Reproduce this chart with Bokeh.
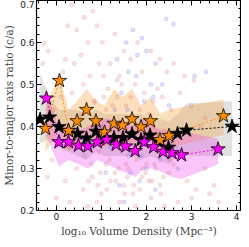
from bokeh.plotting import figure
from bokeh.models import LinearAxis, Range1d, FixedTicker, CustomJSTickFormatter
from bokeh.embed import file_html
from bokeh.resources import INLINE

# --- star series ---
black_x = [-0.36, -0.15, 0.06, 0.27, 0.47, 0.67, 0.88, 1.08, 1.28, 1.48, 1.68, 1.88, 2.08, 2.29, 2.49, 2.69, 2.89, 3.90]
black_y = [0.417, 0.422, 0.399, 0.390, 0.383, 0.372, 0.388, 0.372, 0.373, 0.373, 0.382, 0.368, 0.379, 0.362, 0.350, 0.383, 0.391, 0.400]
black_lo = [0.36, 0.37, 0.35, 0.34, 0.33, 0.32, 0.34, 0.33, 0.33, 0.33, 0.33, 0.32, 0.33, 0.32, 0.31, 0.33, 0.33, 0.33]
black_hi = [0.525, 0.47, 0.44, 0.44, 0.44, 0.43, 0.44, 0.43, 0.43, 0.43, 0.43, 0.43, 0.42, 0.42, 0.41, 0.43, 0.455, 0.46]

orange_x = [-0.24, 0.07, 0.27, 0.46, 0.67, 0.88, 1.07, 1.28, 1.47, 1.68, 1.88, 2.09, 2.30, 2.50, 3.71]
orange_y = [0.395, 0.509, 0.390, 0.413, 0.440, 0.413, 0.386, 0.407, 0.403, 0.418, 0.399, 0.413, 0.368, 0.378, 0.425]
orange_lo = [0.34, 0.39, 0.34, 0.36, 0.38, 0.36, 0.35, 0.36, 0.35, 0.36, 0.35, 0.37, 0.33, 0.35, 0.38]
orange_hi = [0.45, 0.52, 0.44, 0.46, 0.49, 0.46, 0.45, 0.49, 0.47, 0.49, 0.45, 0.47, 0.43, 0.44, 0.465]

magenta_x = [-0.22, 0.06, 0.27, 0.49, 0.70, 0.91, 1.12, 1.33, 1.54, 1.75, 1.95, 2.16, 2.37, 2.57, 2.78, 3.59]
magenta_y = [0.467, 0.363, 0.363, 0.355, 0.353, 0.363, 0.369, 0.357, 0.353, 0.342, 0.363, 0.351, 0.340, 0.337, 0.332, 0.346]
magenta_lo = [0.38, 0.305, 0.32, 0.31, 0.30, 0.32, 0.31, 0.30, 0.29, 0.28, 0.30, 0.30, 0.29, 0.28, 0.275, 0.31]
magenta_hi = [0.48, 0.40, 0.40, 0.39, 0.40, 0.41, 0.42, 0.41, 0.41, 0.40, 0.42, 0.40, 0.39, 0.39, 0.39, 0.37]

# --- background galaxies ---
red_x = [0.34, 0.81, -0.27, -0.18, 0.25, 0.45, 0.62, 0.90, 1.02, 0.70, 0.55, 0.20, 1.30, 1.50, 1.20, 1.65, 0.95, 0.40, 1.80, 2.10,
         2.30, 2.60, 2.85, 3.05, 2.45, 1.05, 0.75, 1.40, 1.90, 0.15, -0.30,
         0.10, 0.35, 0.60, 0.85, 1.15, 1.35, 1.55, 1.75, 1.95, 2.15, 2.35, 2.55, 2.75, 3.00, 3.30, 0.50, 0.80, 1.10, 1.45, 1.70, 2.00, 2.25, 2.65, 3.20, -0.05, 0.30, 0.95, 1.60, 2.40,
         0.00, 0.30, 0.60, 0.80, 1.00, 1.20, 1.40, 1.50, 1.70, 1.90, 2.10, 2.30, 2.50, 2.70, 2.90, 3.10, 3.30, 3.50, 0.45, 1.10, 1.60, 2.00, 2.60, -0.20, -0.10, 0.20, 0.90, 1.30, 1.75, 2.20, 2.40, 3.00, 3.60, 3.40, 0.70, 1.55, 1.85, 2.05,
         0.62, 0.78, 0.98, 1.18, 1.38, 1.58, 1.78, 1.98, 2.18, 2.38, 0.72, 0.92, 1.12, 1.32, 1.52, 1.72, 1.92, 2.12, 2.32, 2.52,
         0.55, 0.85, 1.25, 1.45, 1.65, 1.85, 2.05, 2.25, 1.05, 1.35]
red_y = [0.690, 0.675, 0.598, 0.580, 0.640, 0.630, 0.660, 0.640, 0.600, 0.600, 0.570, 0.560, 0.620, 0.580, 0.550, 0.560, 0.550, 0.550, 0.600, 0.580,
         0.560, 0.550, 0.520, 0.510, 0.530, 0.520, 0.520, 0.520, 0.530, 0.530, 0.550,
         0.470, 0.480, 0.500, 0.460, 0.490, 0.470, 0.450, 0.500, 0.480, 0.460, 0.470, 0.440, 0.480, 0.450, 0.420, 0.420, 0.400, 0.440, 0.360, 0.390, 0.400, 0.380, 0.350, 0.400, 0.440, 0.350, 0.340, 0.370, 0.390,
         0.230, 0.220, 0.250, 0.280, 0.240, 0.270, 0.220, 0.260, 0.240, 0.280, 0.230, 0.260, 0.290, 0.220, 0.270, 0.250, 0.300, 0.260, 0.300, 0.310, 0.300, 0.310, 0.310, 0.280, 0.320, 0.270, 0.220, 0.290, 0.210, 0.300, 0.210, 0.230, 0.220, 0.240, 0.210, 0.310, 0.250, 0.270,
         0.330, 0.310, 0.290, 0.320, 0.300, 0.280, 0.320, 0.290, 0.310, 0.280, 0.270, 0.260, 0.250, 0.270, 0.240, 0.260, 0.300, 0.270, 0.240, 0.320,
         0.430, 0.460, 0.450, 0.500, 0.470, 0.440, 0.430, 0.490, 0.470, 0.510]
blue_x = [2.44, 2.60, 1.70, 1.90, 2.00, 1.55, 1.80, 2.20, 3.32, 3.07, 1.60, 2.35, 1.45, 1.95, 2.10, 1.30, 1.75, 2.50, 1.20, 1.60,
          2.00, 1.85, 2.20, 1.40, 1.65, 2.30, 1.10, 1.50, 2.70, 1.00, 1.35, 1.78, 2.15, 1.58, 1.88]
blue_y = [0.656, 0.644, 0.630, 0.610, 0.580, 0.600, 0.570, 0.550, 0.530, 0.520, 0.530, 0.500, 0.480, 0.460, 0.500, 0.440, 0.420, 0.450, 0.350, 0.330,
          0.300, 0.270, 0.250, 0.260, 0.290, 0.320, 0.290, 0.220, 0.300, 0.400, 0.560, 0.520, 0.470, 0.440, 0.330]

x_ticks = [0, 1, 2, 3, 4]
y_ticks = [0.2, 0.3, 0.4, 0.5, 0.6, 0.7]
x_minor = [i * 0.2 - 0.4 for i in range(23)]
y_minor = [0.2 + i * 0.02 for i in range(26)]

SERIF = "DejaVu Serif"
SANS = "DejaVu Sans"

p = figure(width=241, height=239, output_backend="svg", toolbar_location=None,
           x_range=Range1d(-0.44, 4.11), y_range=Range1d(0.2, 0.7),
           min_border_left=0, min_border_right=0, min_border_top=0, min_border_bottom=0)
p.grid.visible = False
p.outline_line_color = "black"
p.outline_line_width = 1.2

# bands
p.varea(x=black_x, y1=black_lo, y2=black_hi, fill_color="#9a9a9a", fill_alpha=0.3)
p.varea(x=orange_x, y1=orange_lo, y2=orange_hi, fill_color="#f5a742", fill_alpha=0.35)
p.varea(x=magenta_x, y1=magenta_lo, y2=magenta_hi, fill_color="#ee33ee", fill_alpha=0.28)

# background points
p.scatter(red_x, red_y, size=4, fill_color="#d9636b", line_color="#d9636b", fill_alpha=0.18, line_alpha=0.18)
p.scatter(blue_x, blue_y, size=4, fill_color="#6b6be0", line_color="#6b6be0", fill_alpha=0.2, line_alpha=0.2)

# dotted connectors
p.line(black_x, black_y, line_color="black", line_dash="2 2", line_width=1)
p.line(orange_x, orange_y, line_color="#ff8c00", line_dash="2 2", line_width=1)
p.line(magenta_x, magenta_y, line_color="#ff00ff", line_dash="2 2", line_width=1)

# stars
p.scatter(black_x, black_y, marker="star", size=15, fill_color="black", line_color="black", line_width=0.8)
p.scatter(orange_x, orange_y, marker="star", size=15, fill_color="#ff8c00", line_color="black", line_width=0.8)
p.scatter(magenta_x, magenta_y, marker="star", size=15, fill_color="#ff00ff", line_color="black", line_width=0.8)

# axes
for ax in p.xaxis + p.yaxis:
    ax.major_tick_in = 5
    ax.major_tick_out = 0
    ax.minor_tick_in = 3
    ax.minor_tick_out = 0
    ax.axis_line_color = "black"
    ax.major_label_text_font = SANS
    ax.major_label_text_font_size = "9px"
    ax.major_label_text_color = "#222222"
    ax.axis_label_text_font = SERIF
    ax.axis_label_text_font_style = "normal"
    ax.axis_label_text_font_size = "10.5px"
    ax.axis_label_standoff = 2
    ax.major_label_standoff = 2

p.xaxis.ticker = FixedTicker(ticks=x_ticks, minor_ticks=x_minor)
p.yaxis.ticker = FixedTicker(ticks=y_ticks, minor_ticks=y_minor)
p.xaxis.axis_label = "log\u2081\u2080 Volume Density (Mpc\u207b\u00b3)"
p.yaxis.axis_label = "Minor-to-major axis ratio (c/a)"

blank = CustomJSTickFormatter(code="return ''")
top = LinearAxis(ticker=FixedTicker(ticks=x_ticks, minor_ticks=x_minor), formatter=blank,
                 major_tick_in=5, major_tick_out=0, minor_tick_in=3, minor_tick_out=0,
                 major_label_standoff=0, major_label_text_font_size="1px")
right = LinearAxis(ticker=FixedTicker(ticks=y_ticks, minor_ticks=y_minor), formatter=blank,
                   major_tick_in=5, major_tick_out=0, minor_tick_in=3, minor_tick_out=0,
                   major_label_standoff=0, major_label_text_font_size="1px")
p.add_layout(top, "above")
p.add_layout(right, "right")

open("out.html", "w").write(file_html(p, INLINE))
